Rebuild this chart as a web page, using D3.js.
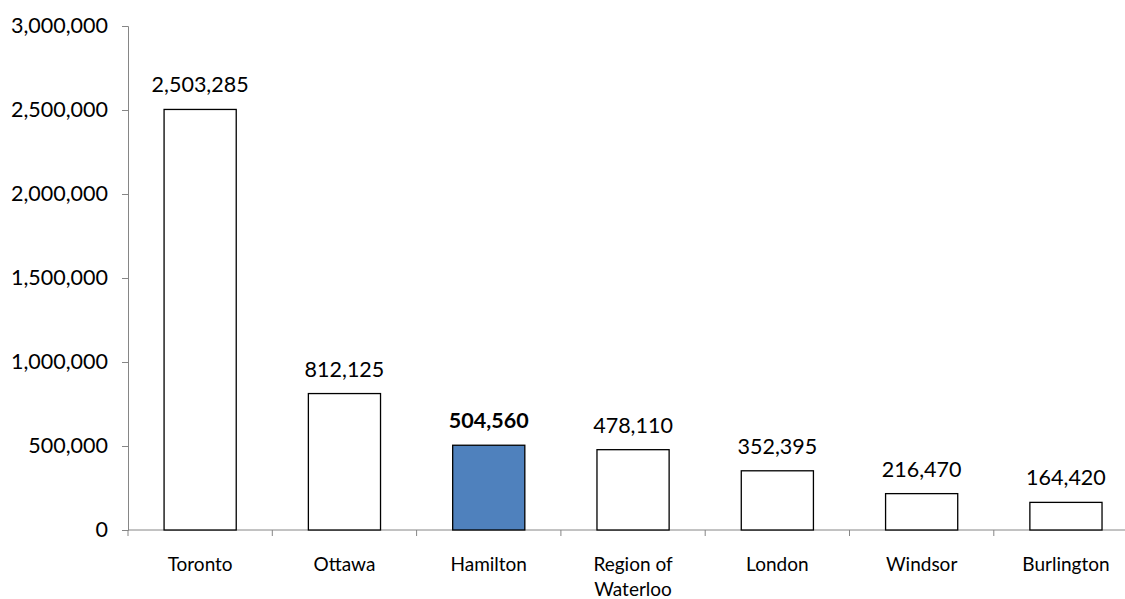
<!DOCTYPE html>
<html>
<head>
<meta charset="utf-8">
<script src="https://cdn.jsdelivr.net/npm/d3@7"></script>
<style>
  body { margin: 0; background: #fff; }
  text { font-family: Lato, "Open Sans", sans-serif; fill: #000; }
</style>
</head>
<body>
<div id="chart"></div>
<script>
// data
var cities = ['Toronto', 'Ottawa', 'Hamilton', 'Region of Waterloo', 'London', 'Windsor', 'Burlington'];
var population = [2503285, 812125, 504560, 478110, 352395, 216470, 164420];
var highlight = ['Hamilton'];
var yTicks = [0, 500000, 1000000, 1500000, 2000000, 2500000, 3000000];

var width = 1125;
var height = 599;
var margin = { top: 26, left: 128, bottom: 69 };
var bandStep = 144.3;

var svg = d3.select('#chart').append('svg')
    .attr('width', width)
    .attr('height', height);

var x = d3.scaleBand()
    .domain(cities)
    .range([margin.left, margin.left + bandStep * cities.length])
    .paddingInner(0.5)
    .paddingOuter(0.25);

var y = d3.scaleLinear()
    .domain([0, 3000000])
    .range([height - margin.bottom, margin.top]);

var fmt = d3.format(',');

// y axis
var yAxis = svg.append('g')
    .attr('transform', 'translate(' + margin.left + ',0)')
    .call(d3.axisLeft(y).tickValues(yTicks).tickFormat(fmt).tickSize(6).tickPadding(14));
yAxis.select('.domain').attr('stroke', '#868686');
yAxis.selectAll('.tick line').attr('stroke', '#868686');
yAxis.selectAll('.tick text').style('font-size', '21.5px').attr('fill', '#000');

// x axis (line + ticks between categories)
var xg = svg.append('g');
xg.append('line')
    .attr('x1', margin.left).attr('x2', width)
    .attr('y1', y(0)).attr('y2', y(0))
    .attr('stroke', '#868686');
xg.selectAll('line.sep')
    .data(d3.range(cities.length + 1))
    .enter().append('line')
    .attr('class', 'sep')
    .attr('x1', function(i) { return margin.left + i * bandStep; })
    .attr('x2', function(i) { return margin.left + i * bandStep; })
    .attr('y1', y(0)).attr('y2', y(0) + 6)
    .attr('stroke', '#868686');

// bars
svg.selectAll('rect.bar')
    .data(cities)
    .enter().append('rect')
    .attr('class', 'bar')
    .attr('x', function(d) { return x(d); })
    .attr('width', x.bandwidth())
    .attr('y', function(d, i) { return y(population[i]); })
    .attr('height', function(d, i) { return y(0) - y(population[i]); })
    .attr('fill', function(d) { return highlight.indexOf(d) >= 0 ? '#4F81BD' : '#fff'; })
    .attr('stroke', '#000')
    .attr('stroke-width', 1.3);

// value labels
svg.selectAll('text.val')
    .data(cities)
    .enter().append('text')
    .attr('class', 'val')
    .attr('x', function(d) { return x(d) + x.bandwidth() / 2; })
    .attr('y', function(d, i) { return y(population[i]) - 17; })
    .attr('text-anchor', 'middle')
    .style('font-size', '21.5px')
    .style('font-weight', function(d) { return highlight.indexOf(d) >= 0 ? 'bold' : 'normal'; })
    .text(function(d, i) { return fmt(population[i]); });

// category labels, wrapped like the original
var labelLines = {
    'Region of Waterloo': ['Region of', 'Waterloo']
};
svg.selectAll('text.cat')
    .data(cities)
    .enter().append('text')
    .attr('class', 'cat')
    .attr('x', function(d) { return x(d) + x.bandwidth() / 2; })
    .attr('y', 571)
    .attr('text-anchor', 'middle')
    .style('font-size', '19px')
    .each(function(d) {
        var lines = labelLines[d] || [d];
        var t = d3.select(this);
        lines.forEach(function(l, i) {
            t.append('tspan')
                .attr('x', x(d) + x.bandwidth() / 2)
                .attr('dy', i === 0 ? 0 : 25)
                .text(l);
        });
    });
</script>
</body>
</html>
